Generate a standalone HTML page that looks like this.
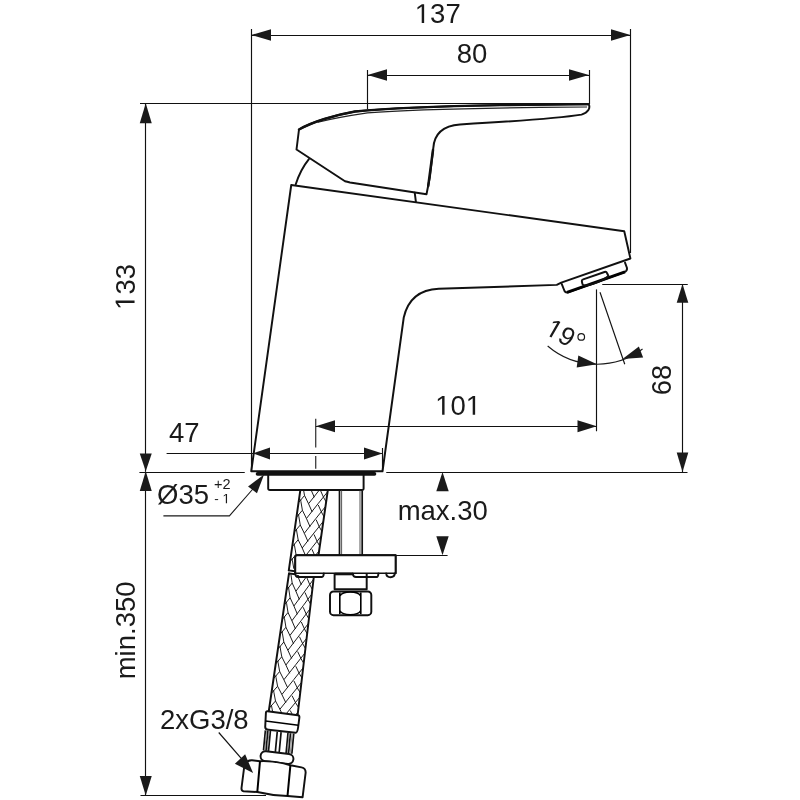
<!DOCTYPE html>
<html><head><meta charset="utf-8"><style>
html,body{margin:0;padding:0;background:#fff;}
svg{display:block;will-change:transform;}
text{font-family:"Liberation Sans",sans-serif;fill:#1a1a1a;}
</style></head><body>
<svg width="800" height="800" viewBox="0 0 800 800">
<rect width="800" height="800" fill="#fff"/>
<path d="M299 129.5 C312 122 335 115 355 111.5 C390 107.9 450 105.9 500 105.1 L588.75 104.1 C590.5 108 588.5 112.5 581.5 114.6 C560 118 520 121 460 124.5 C440 126 434 137 433.3 148.1 L429.9 177 L426.5 194.2 L350 182.5 Q347 181.8 345 181.25 L296.5 149.5 Z" stroke="#111" stroke-width="1.95" fill="none" stroke-linejoin="round" stroke-linecap="round"/>
<path d="M318 122.2 C332 118.6 348 115.8 367.5 112.9 C400 110.3 450 108.6 540 107.4 L587 107" stroke="#222" stroke-width="1.1" fill="none"/>
<path d="M299 129.5 C312 122 335 115 355 111.5 C390 107.9 450 105.9 500 105.1 L588 104.1" stroke="#111" stroke-width="2.4" fill="none" stroke-linecap="round"/>
<path d="M433 150 L428.2 186" stroke="#111" stroke-width="2.5" stroke-linecap="round"/>
<path d="M295.75 184.25 Q300.5 169.5 308.9 159.1" stroke="#111" stroke-width="1.95" fill="none" stroke-linejoin="round" stroke-linecap="round"/>
<path d="M291.25 185 L624.25 231.25 L630.4 258.5 L561.25 282.6 L556.75 284.9 L438.75 288.75 Q410 290 403.75 317.5 L382.5 471.25 L251.25 471.25 Z" stroke="#111" stroke-width="1.95" fill="none" stroke-linejoin="round" stroke-linecap="round"/>
<line x1="414.75" y1="192.8" x2="415.9" y2="201.8" stroke="#111" stroke-width="1.95" fill="none" stroke-linejoin="round" stroke-linecap="round"/>
<path d="M561.7 283.9 L564.5 291 Q565.5 293 568 292.4 L624 272.4 Q627.5 271 627 268 L625 262.6" stroke="#111" stroke-width="1.95" fill="none" stroke-linejoin="round" stroke-linecap="round"/>
<path d="M567 292.4 L625 271.8" stroke="#000" stroke-width="3" fill="none"/>
<path d="M581.8 281 Q581.5 279.9 583.2 279.3 L604.5 272 Q606.3 271.4 607 273 L608.4 276 Q603 280.5 593.2 283.9 Q588 285.5 584.8 285.4 Q582.5 285.2 582.3 283.5 Z" stroke="#111" stroke-width="1.95" fill="none" stroke-linejoin="round" stroke-linecap="round"/>
<path d="M257.5 473.9 L374.5 473.9" stroke="#111" stroke-width="3.6" stroke-linecap="round"/>
<path d="M268.2 475 V488.5 Q268.2 490 270 490 L362 490 Q363.6 490 363.6 488.5 V475" stroke="#111" stroke-width="1.95" fill="none" stroke-linejoin="round" stroke-linecap="round"/>
<clipPath id="h1"><polygon points="300.3,490.4 327.8,490.4 317.8,560 288.8,570.4"/></clipPath>
<path clip-path="url(#h1)" d="M307.00 455.25 L307.27 457.25 L308.76 466.00 L312.80 474.25 L316.42 482.50 M302.79 473.05 L308.76 466.00 M312.80 474.25 L324.58 459.25 L334.62 446.75 M324.64 460.75 L327.75 467.75 L330.81 473.25 M304.88 470.00 L305.14 472.00 L306.64 480.75 L310.68 489.00 L314.30 497.25 M300.67 487.80 L306.64 480.75 M310.68 489.00 L322.46 474.00 L332.50 461.50 M322.52 475.50 L325.64 482.50 L328.69 488.00 M302.76 484.75 L303.02 486.75 L304.52 495.50 L308.56 503.75 L312.18 512.00 M298.55 502.55 L304.52 495.50 M308.56 503.75 L320.34 488.75 L330.38 476.25 M320.40 490.25 L323.52 497.25 L326.58 502.75 M300.64 499.50 L300.90 501.50 L302.40 510.25 L306.44 518.50 L310.06 526.75 M296.43 517.30 L302.40 510.25 M306.44 518.50 L318.22 503.50 L328.26 491.00 M318.28 505.00 L321.40 512.00 L324.46 517.50 M298.52 514.25 L298.78 516.25 L300.28 525.00 L304.32 533.25 L307.94 541.50 M294.31 532.05 L300.28 525.00 M304.32 533.25 L316.10 518.25 L326.14 505.75 M316.16 519.75 L319.28 526.75 L322.34 532.25 M296.40 529.00 L296.66 531.00 L298.16 539.75 L302.20 548.00 L305.82 556.25 M292.19 546.80 L298.16 539.75 M302.20 548.00 L313.98 533.00 L324.03 520.50 M314.04 534.50 L317.16 541.50 L320.22 547.00 M294.28 543.75 L294.54 545.75 L296.04 554.50 L300.08 562.75 L303.70 571.00 M290.07 561.55 L296.04 554.50 M300.08 562.75 L311.86 547.75 L321.91 535.25 M311.92 549.25 L315.04 556.25 L318.10 561.75 M292.16 558.50 L292.42 560.50 L293.92 569.25 L297.96 577.50 L301.58 585.75 M287.95 576.30 L293.92 569.25 M297.96 577.50 L309.74 562.50 L319.79 550.00 M309.80 564.00 L312.92 571.00 L315.98 576.50 M290.04 573.25 L290.30 575.25 L291.80 584.00 L295.84 592.25 L299.46 600.50 M285.83 591.05 L291.80 584.00 M295.84 592.25 L307.62 577.25 L317.67 564.75 M307.68 578.75 L310.80 585.75 L313.86 591.25 M287.92 588.00 L288.18 590.00 L289.68 598.75 L293.72 607.00 L297.35 615.25 M283.71 605.80 L289.68 598.75 M293.72 607.00 L305.50 592.00 L315.55 579.50 M305.56 593.50 L308.68 600.50 L311.74 606.00 M285.80 602.75 L286.06 604.75 L287.56 613.50 L291.60 621.75 L295.23 630.00 M281.59 620.55 L287.56 613.50 M291.60 621.75 L303.38 606.75 L313.43 594.25 M303.44 608.25 L306.56 615.25 L309.62 620.75" stroke="#111" stroke-width="0.95" fill="none" stroke-linejoin="round"/>
<path d="M300.3 490.4 L288.8 570.4 M327.8 490.4 L317.8 560" stroke="#111" stroke-width="1.95" fill="none" stroke-linejoin="round" stroke-linecap="round"/>
<clipPath id="h2"><polygon points="289,573.4 313.75,577.5 297.5,716 268.6,712.5"/></clipPath>
<path clip-path="url(#h2)" d="M297.09 528.00 L297.28 530.00 L298.44 538.75 L301.92 547.00 L305.12 555.25 M293.05 545.80 L298.44 538.75 M301.92 547.00 L312.36 532.00 L321.03 519.50 M312.42 533.50 L315.18 540.50 L317.93 546.00 M294.95 542.75 L295.15 544.75 L296.36 553.50 L299.92 561.75 L303.20 570.00 M290.88 560.55 L296.36 553.50 M299.92 561.75 L310.51 546.75 L319.31 534.25 M310.57 548.25 L313.40 555.25 L316.21 560.75 M292.82 557.50 L293.02 559.50 L294.27 568.25 L297.91 576.50 L301.27 584.75 M288.72 575.30 L294.27 568.25 M297.91 576.50 L308.66 561.50 L317.58 549.00 M308.72 563.00 L311.61 570.00 L314.49 575.50 M290.68 572.25 L290.90 574.25 L292.18 583.00 L295.91 591.25 L299.34 599.50 M286.56 590.05 L292.18 583.00 M295.91 591.25 L306.81 576.25 L315.86 563.75 M306.87 577.75 L309.83 584.75 L312.77 590.25 M288.54 587.00 L288.77 589.00 L290.10 597.75 L293.91 606.00 L297.41 614.25 M284.39 604.80 L290.10 597.75 M293.91 606.00 L304.96 591.00 L314.14 578.50 M305.03 592.50 L308.05 599.50 L311.05 605.00 M286.41 601.75 L286.64 603.75 L288.01 612.50 L291.91 620.75 L295.49 629.00 M282.23 619.55 L288.01 612.50 M291.91 620.75 L303.11 605.75 L312.42 593.25 M303.18 607.25 L306.27 614.25 L309.32 619.75 M284.27 616.50 L284.51 618.50 L285.93 627.25 L289.90 635.50 L293.56 643.75 M280.07 634.30 L285.93 627.25 M289.90 635.50 L301.25 620.50 L310.70 608.00 M301.33 622.00 L304.48 629.00 L307.60 634.50 M282.13 631.25 L282.38 633.25 L283.84 642.00 L287.90 650.25 L291.63 658.50 M277.91 649.05 L283.84 642.00 M287.90 650.25 L299.40 635.25 L308.97 622.75 M299.48 636.75 L302.70 643.75 L305.88 649.25 M279.99 646.00 L280.25 648.00 L281.76 656.75 L285.90 665.00 L289.70 673.25 M275.74 663.80 L281.76 656.75 M285.90 665.00 L297.55 650.00 L307.25 637.50 M297.64 651.50 L300.92 658.50 L304.16 664.00 M277.86 660.75 L278.12 662.75 L279.67 671.50 L283.89 679.75 L287.78 688.00 M273.58 678.55 L279.67 671.50 M283.89 679.75 L295.70 664.75 L305.53 652.25 M295.79 666.25 L299.14 673.25 L302.44 678.75 M275.72 675.50 L276.00 677.50 L277.59 686.25 L281.89 694.50 L285.85 702.75 M271.42 693.30 L277.59 686.25 M281.89 694.50 L293.85 679.50 L303.81 667.00 M293.94 681.00 L297.35 688.00 L300.71 693.50 M273.58 690.25 L273.87 692.25 L275.50 701.00 L279.89 709.25 L283.92 717.50 M269.25 708.05 L275.50 701.00 M279.89 709.25 L291.99 694.25 L302.09 681.75 M292.09 695.75 L295.57 702.75 L298.99 708.25 M271.45 705.00 L271.74 707.00 L273.42 715.75 L277.88 724.00 L281.99 732.25 M267.09 722.80 L273.42 715.75 M277.88 724.00 L290.14 709.00 L300.36 696.50 M290.25 710.50 L293.79 717.50 L297.27 723.00 M269.31 719.75 L269.61 721.75 L271.33 730.50 L275.88 738.75 L280.07 747.00 M264.93 737.55 L271.33 730.50 M275.88 738.75 L288.29 723.75 L298.64 711.25 M288.40 725.25 L292.01 732.25 L295.55 737.75 M267.17 734.50 L267.48 736.50 L269.25 745.25 L273.88 753.50 L278.14 761.75 M262.76 752.30 L269.25 745.25 M273.88 753.50 L286.44 738.50 L296.92 726.00 M286.55 740.00 L290.22 747.00 L293.83 752.50 M265.03 749.25 L265.35 751.25 L267.16 760.00 L271.87 768.25 L276.21 776.50 M260.60 767.05 L267.16 760.00 M271.87 768.25 L284.59 753.25 L295.20 740.75 M284.71 754.75 L288.44 761.75 L292.11 767.25" stroke="#111" stroke-width="0.95" fill="none" stroke-linejoin="round"/>
<path d="M289 573.4 L268.6 712.5 M313.75 577.5 L297.5 716" stroke="#111" stroke-width="1.95" fill="none" stroke-linejoin="round" stroke-linecap="round"/>
<path d="M339.5 490.4 V555.3 M362.2 490.4 V555.3" stroke="#111" stroke-width="1.7"/>
<path d="M341.6 490.4 V555.3 M360 490.4 V555.3" stroke="#444" stroke-width="0.9"/>
<path d="M295.25 573.5 L295.25 557.2 Q295.25 555.2 297.25 555.2 L395.6 555.2 L395.6 573.3" fill="#fff" stroke="#111" stroke-width="1.95" fill="none" stroke-linejoin="round" stroke-linecap="round"/>
<rect x="295.25" y="555.2" width="100.35" height="18.1" fill="#fff"/>
<path d="M295.25 573.5 L295.25 557.2 Q295.25 555.2 297.25 555.2 L395.6 555.2 L395.6 573.3" stroke="#111" stroke-width="1.95" fill="none" stroke-linejoin="round" stroke-linecap="round"/>
<path d="M296 573.3 H395.6" stroke="#111" stroke-width="1.4"/>
<path d="M295.25 573 Q295.4 577 298 577 L322 577 Q323.5 577 323.8 573.5" stroke="#111" stroke-width="1.95" fill="none" stroke-linejoin="round" stroke-linecap="round"/>
<path d="M352.7 573.6 Q353.2 577 356 577 L376.8 577 Q378.2 577 378.4 573.5" stroke="#111" stroke-width="1.95" fill="none" stroke-linejoin="round" stroke-linecap="round"/>
<path d="M386.2 573.5 Q386.5 577.2 390.5 577.2 Q394.5 577.2 394.7 573.5" stroke="#111" stroke-width="1.95" fill="none" stroke-linejoin="round" stroke-linecap="round"/>
<path d="M288.8 570.4 L295 571.3 M289 573.4 L295 574.3" stroke="#111" stroke-width="1.95" fill="none" stroke-linejoin="round" stroke-linecap="round"/>
<path d="M334.6 574 V589.3 H366.7 V574" stroke="#111" stroke-width="1.95" fill="none" stroke-linejoin="round" stroke-linecap="round"/>
<path d="M334.6 574 H352.7" stroke="#111" stroke-width="2.6"/>
<rect x="330" y="591.4" width="41.3" height="23.8" rx="3.5" stroke="#111" stroke-width="1.95" fill="none" stroke-linejoin="round" stroke-linecap="round"/>
<path d="M339.8 592.5 V614 M360.8 592.5 V614 M339.8 596 Q342 592 350.3 592 Q358.6 592 360.8 596 M339.8 610.5 Q342 614.7 350.3 614.7 Q358.6 614.7 360.8 610.5" stroke="#000" stroke-width="1.6" fill="none"/>
<path d="M267.5 711.2 L297.8 715.3 Q299.6 715.6 299.4 717.4 L298.1 727.5 Q297.4 732.9 295.5 732.8 L268.5 729.8 Q265.2 729.5 265.2 727 L265.9 713 Q266 711 267.5 711.2 Z" fill="#fff" stroke="#111" stroke-width="1.95" fill="none" stroke-linejoin="round" stroke-linecap="round"/>
<path d="M265.6 721.1 L298.3 725.3" stroke="#000" stroke-width="1.5"/>
<path d="M265.40 730.35 L263.50 750.45 M267.90 730.64 L266.00 750.74 M270.40 730.93 L268.50 751.03 M277.25 731.72 L275.35 751.82 M281.10 732.17 L279.20 752.27 M288.00 732.97 L286.10 753.07 M290.45 733.25 L288.55 753.35 M293.75 733.63 L291.85 753.74 " stroke="#111" stroke-width="1.7" fill="none"/>
<path d="M266.65 730.49 L264.75 750.59 M269.15 730.78 L267.25 750.88 M289.20 733.11 L287.30 753.21 M292.10 733.44 L290.20 753.54 " stroke="#777" stroke-width="0.8" fill="none"/>
<rect x="-16.5" y="-5" width="33" height="10" rx="5" transform="translate(277 757.6) rotate(6.5)" fill="#fff" stroke="#111" stroke-width="1.95" fill="none" stroke-linejoin="round" stroke-linecap="round"/>
<path d="M260 761.2 Q275 760.6 290.4 765.2 L301.5 767.4 Q306 768.4 305.6 773 L302.6 797.2 L287.5 796 Q272 795.6 257.3 792 L243.5 791.2 Q241.3 790.8 241.5 788 L244 768.5 Q245 760 252 760.3 Z" fill="#fff" stroke="#111" stroke-width="1.95" fill="none" stroke-linejoin="round" stroke-linecap="round"/>
<path d="M260 761.2 L257.3 792 M290.4 765.2 L287.5 796" stroke="#000" stroke-width="2"/>
<line x1="251" y1="35.5" x2="630.5" y2="35.5" stroke="#111" stroke-width="1.15" fill="none"/>
<polygon points="251.00,35.00 271.00,29.20 271.00,40.80" fill="#1a1a1a"/>
<polygon points="630.50,35.00 611.00,40.80 611.00,29.20" fill="#1a1a1a"/>
<line x1="251.5" y1="29" x2="251.5" y2="471.5" stroke="#111" stroke-width="1.15" fill="none"/>
<line x1="630.5" y1="29" x2="630.5" y2="253" stroke="#111" stroke-width="1.15" fill="none"/>
<g transform="translate(414.8 23.1)"><text x="0" y="0" font-size="27.5" > 37</text><path d="M515 0 L515 1237 L197 1010 L197 1180 L530 1409 L696 1409 L696 0 Z" transform="translate(0.000 0) scale(0.01343 -0.01343)" fill="#1a1a1a"/></g>
<line x1="367.5" y1="75.5" x2="589" y2="75.5" stroke="#111" stroke-width="1.15" fill="none"/>
<polygon points="367.50,75.00 387.00,69.20 387.00,80.80" fill="#1a1a1a"/>
<polygon points="589.00,75.00 569.00,80.80 569.00,69.20" fill="#1a1a1a"/>
<line x1="367.5" y1="70" x2="367.5" y2="109" stroke="#111" stroke-width="1.15" fill="none"/>
<line x1="589.5" y1="70" x2="589.5" y2="104" stroke="#111" stroke-width="1.15" fill="none"/>
<text x="456.75" y="63.45" font-size="27.5" text-anchor="start" >80</text>
<line x1="140" y1="103.5" x2="587" y2="103.5" stroke="#111" stroke-width="1.15" fill="none"/>
<line x1="145.5" y1="103.25" x2="145.5" y2="471.25" stroke="#111" stroke-width="1.15" fill="none"/>
<polygon points="145.75,103.25 151.75,123.25 139.75,123.25" fill="#1a1a1a"/>
<polygon points="145.75,471.25 139.75,453.40 151.75,453.40" fill="#1a1a1a"/>
<g transform="translate(134.55 309.82) rotate(-90)"><text x="0" y="0" font-size="27.5" > 33</text><path d="M515 0 L515 1237 L197 1010 L197 1180 L530 1409 L696 1409 L696 0 Z" transform="translate(0.000 0) scale(0.01343 -0.01343)" fill="#1a1a1a"/></g>
<line x1="139.4" y1="472.5" x2="244.75" y2="472.5" stroke="#111" stroke-width="1.15" fill="none"/>
<line x1="386.25" y1="472.5" x2="687.5" y2="472.5" stroke="#111" stroke-width="1.15" fill="none"/>
<line x1="145.5" y1="471.25" x2="145.5" y2="795.5" stroke="#111" stroke-width="1.15" fill="none"/>
<polygon points="145.75,471.25 151.75,491.00 139.75,491.00" fill="#1a1a1a"/>
<polygon points="145.75,795.50 139.75,776.00 151.75,776.00" fill="#1a1a1a"/>
<line x1="140.5" y1="795.5" x2="266" y2="795.5" stroke="#111" stroke-width="1.15" fill="none"/>
<text x="135.05" y="679.3" font-size="27.5" text-anchor="start" transform="rotate(-90 135.05 679.3)" >min.350</text>
<line x1="166.6" y1="453.5" x2="382.5" y2="453.5" stroke="#111" stroke-width="1.15" fill="none"/>
<polygon points="252.80,453.40 270.00,447.40 270.00,459.40" fill="#1a1a1a"/>
<polygon points="382.50,453.40 364.00,459.40 364.00,447.40" fill="#1a1a1a"/>
<line x1="382.5" y1="448" x2="382.5" y2="471" stroke="#111" stroke-width="1.15" fill="none"/>
<text x="169.05" y="442.0" font-size="27.5" text-anchor="start" >47</text>
<line x1="315.75" y1="426.5" x2="596.75" y2="426.5" stroke="#111" stroke-width="1.15" fill="none"/>
<polygon points="315.75,426.25 335.00,420.25 335.00,432.25" fill="#1a1a1a"/>
<polygon points="596.75,426.25 577.50,432.25 577.50,420.25" fill="#1a1a1a"/>
<line x1="596.5" y1="289.4" x2="596.5" y2="431.25" stroke="#111" stroke-width="1.15" fill="none"/>
<g transform="translate(435.2 414.8)"><text x="0" y="0" font-size="27.5" > 0 </text><path d="M515 0 L515 1237 L197 1010 L197 1180 L530 1409 L696 1409 L696 0 Z" transform="translate(0.000 0) scale(0.01343 -0.01343)" fill="#1a1a1a"/><path d="M515 0 L515 1237 L197 1010 L197 1180 L530 1409 L696 1409 L696 0 Z" transform="translate(30.588 0) scale(0.01343 -0.01343)" fill="#1a1a1a"/></g>
<path d="M315.75 418.75 V447.5 M315.75 456 V468.75" stroke="#1a1a1a" stroke-width="1.1"/>
<line x1="682.5" y1="284" x2="682.5" y2="472" stroke="#111" stroke-width="1.15" fill="none"/>
<polygon points="682.50,284.00 688.30,302.75 676.70,302.75" fill="#1a1a1a"/>
<polygon points="682.50,472.00 676.70,452.50 688.30,452.50" fill="#1a1a1a"/>
<line x1="602.25" y1="284.5" x2="687.75" y2="284.5" stroke="#111" stroke-width="1.15" fill="none"/>
<text x="671.1" y="395.2" font-size="27.5" text-anchor="start" transform="rotate(-90 671.1 395.2)" >68</text>
<polygon points="442.50,472.00 448.70,491.25 436.30,491.25" fill="#1a1a1a"/>
<polygon points="442.50,555.30 436.30,536.25 448.70,536.25" fill="#1a1a1a"/>
<line x1="395" y1="555.5" x2="447.6" y2="555.5" stroke="#111" stroke-width="1.15" fill="none"/>
<text x="397.65" y="519.8" font-size="27.5" text-anchor="start" >max.30</text>
<polyline points="163.4,515.9 229.4,515.9 253.75,488" stroke="#1a1a1a" stroke-width="1.1" fill="none"/>
<polygon points="264.10,474.60 256.95,493.20 248.05,486.40" fill="#1a1a1a"/>
<text x="157.1" y="504.3" font-size="27.5" text-anchor="start" >Ø35</text>
<text x="214" y="488.6" font-size="14.5" text-anchor="start" >+2</text>
<g transform="translate(214.2 503.2)"><text x="0" y="0" font-size="13.5" >-  </text><path d="M515 0 L515 1237 L197 1010 L197 1180 L530 1409 L696 1409 L696 0 Z" transform="translate(8.246 0) scale(0.00659 -0.00659)" fill="#1a1a1a"/></g>
<path d="M547.66 346.01 A76 76 0 0 0 642.54 349.05" stroke="#1a1a1a" stroke-width="1.1" fill="none"/>
<line x1="600" y1="292.25" x2="624.75" y2="364.25" stroke="#111" stroke-width="1.15" fill="none"/>
<polygon points="597.00,364.20 576.68,367.44 578.32,355.56" fill="#1a1a1a"/>
<polygon points="622.50,359.00 638.88,346.39 643.12,357.61" fill="#1a1a1a"/>
<g transform="translate(543.8 333.2) rotate(30)"><text x="0" y="0" font-size="26" > 9</text><path d="M515 0 L515 1237 L197 1010 L197 1180 L530 1409 L696 1409 L696 0 Z" transform="translate(0.000 0) scale(0.01270 -0.01270)" fill="#1a1a1a"/></g>
<circle cx="581.25" cy="336.9" r="3.3" stroke="#1a1a1a" stroke-width="1.2" fill="none"/>
<text x="160.0" y="728.9" font-size="27.5" text-anchor="start" >2xG3/8</text>
<line x1="218.75" y1="732.5" x2="247" y2="765" stroke="#111" stroke-width="1.15" fill="none"/>
<polygon points="253.10,773.10 234.87,763.76 245.13,754.24" fill="#1a1a1a"/>
</svg></body></html>
